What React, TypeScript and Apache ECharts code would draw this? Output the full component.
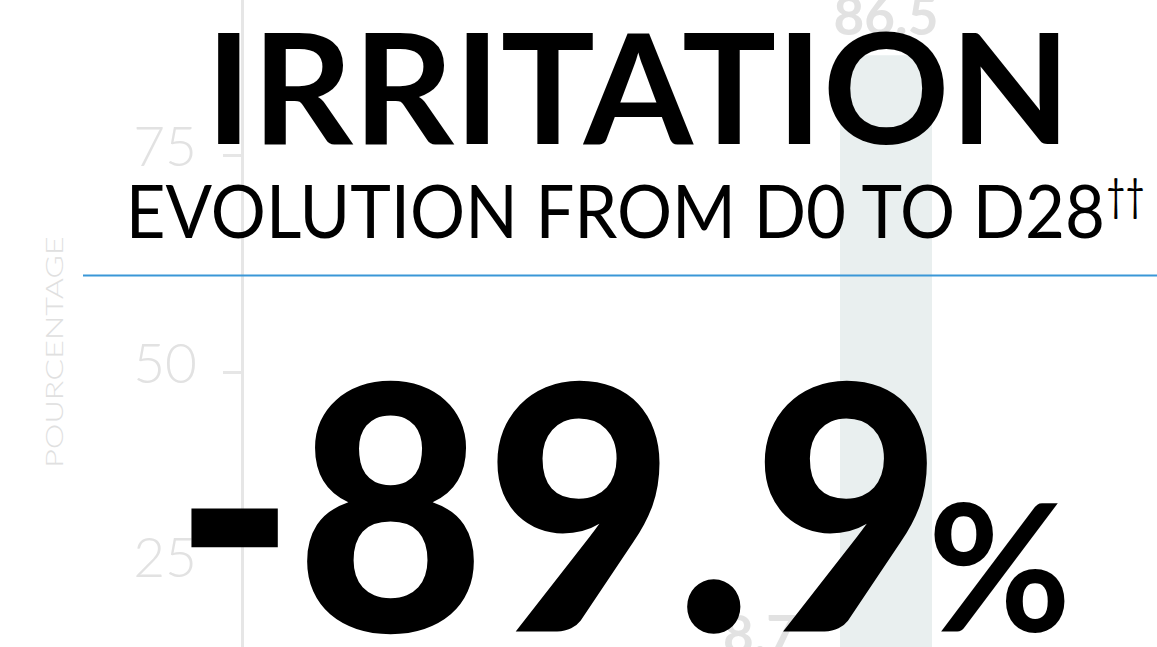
import React, { useEffect, useRef } from "react";
import * as echarts from "echarts";

// ---- data ----
const categories = ["D28", "D0"];
const values = [8.7, 86.5];
const yMin = 0;
const yMax = 100;
const yInterval = 25;
const visibleTicks = [0, 50, 75, 100];
const titleText = "IRRITATION";
const subtitleText = "EVOLUTION FROM D0 TO D28";
const subtitleMark = "††";
const headlineValue = "-89.9";
const headlineUnit = "%";
const yAxisName = "POURCENTAGE";

const FONT = "Lato";
const SVG_MIDDLE_SHIFT = 0.068;

type Box = { x: number; y: number; w: number; h: number };

function fitText(text: string, weight: number, box: Box) {
  const c = document.createElement("canvas");
  const ctx = c.getContext("2d")!;
  ctx.font = `${weight} 100px ${FONT}`;
  ctx.textBaseline = "middle";
  const m = ctx.measureText(text);
  const inkH = m.actualBoundingBoxAscent + m.actualBoundingBoxDescent;
  const fs = (100 * box.h) / inkH;
  const k = fs / 100;
  const inkW = (m.actualBoundingBoxLeft + m.actualBoundingBoxRight) * k;
  const sx = box.w / inkW;
  return {
    x: box.x + m.actualBoundingBoxLeft * k * sx,
    y: box.y + m.actualBoundingBoxAscent * k - SVG_MIDDLE_SHIFT * fs,
    fontSize: fs,
    scaleX: sx,
  };
}

function textEl(text: string, weight: number, box: Box, fill: string) {
  const f = fitText(text, weight, box);
  return {
    type: "text",
    x: f.x,
    y: f.y,
    scaleX: f.scaleX,
    z: 10,
    style: {
      text,
      fontFamily: FONT,
      fontSize: f.fontSize,
      fontWeight: weight,
      fill,
      textAlign: "left",
      textVerticalAlign: "middle",
      align: "left",
      verticalAlign: "middle",
    },
  };
}

export default function App() {
  const ref = useRef<HTMLDivElement>(null);
  useEffect(() => {
    if (!ref.current) return;
    const chart = echarts.init(ref.current, undefined, { renderer: "svg" });

    const labelBase = {
      fontFamily: FONT,
      fontWeight: 300,
      fontSize: 55,
      color: "#e2e2e2",
    };

    const option: any = {
      animation: false,
      backgroundColor: "#ffffff",
      grid: {
        left: 697,
        right: 208,
        top: -62,
        bottom: -159,
        containLabel: false,
        outerBoundsMode: "none",
      },
      xAxis: {
        type: "category",
        data: categories,
        axisLine: { show: false },
        axisTick: { show: false },
        axisLabel: { show: false },
      },
      yAxis: {
        type: "value",
        min: yMin,
        max: yMax,
        interval: yInterval,
        position: "left",
        offset: 455,
        axisLine: { show: true, lineStyle: { color: "#e6e6e6", width: 3 } },
        axisTick: {
          show: true,
          length: 19,
          customValues: visibleTicks,
          lineStyle: { color: "#e6e6e6", width: 3 },
        },
        splitLine: { show: false },
        axisLabel: {
          margin: 45,
          ...labelBase,
          formatter: (v: number) => (v === 25 ? `{lift|${v}}` : `{base|${v}}`),
          rich: {
            base: { ...labelBase, padding: [0, 0, 20, 0] },
            lift: { ...labelBase, padding: [0, 0, 66, 0] },
          },
        },
      },
      series: [
        {
          type: "bar",
          barWidth: 92,
          itemStyle: { color: "#e9efef" },
          label: {
            show: true,
            position: "top",
            distance: 14,
            fontFamily: FONT,
            fontWeight: 700,
            fontSize: 53,
            color: "#e2e2e2",
          },
          data: values.map((v, i) =>
            i === 0 ? { value: v, label: { distance: 70 } } : { value: v }
          ),
        },
      ],
      graphic: {
        elements: [
          {
            type: "line",
            z: 10,
            shape: { x1: 83, y1: 275.5, x2: 1157, y2: 275.5 },
            style: { stroke: "#3a97d7", lineWidth: 2 },
          },
          (() => {
            const f = fitText(yAxisName, 400, { x: 0, y: 0, w: 230, h: 18 });
            return {
              type: "text",
              x: 54,
              y: 352,
              rotation: Math.PI / 2,
              scaleX: f.scaleX,
              z: 10,
              style: {
                text: yAxisName,
                fontFamily: FONT,
                fontSize: f.fontSize,
                fontWeight: 300,
                fill: "#e0e0e0",
                textAlign: "center",
                textVerticalAlign: "middle",
                align: "center",
                verticalAlign: "middle",
              },
            };
          })(),
          textEl(titleText, 700, { x: 218, y: 32, w: 840, h: 114 }, "#000000"),
          textEl(subtitleText, 400, { x: 132, y: 184, w: 972, h: 55 }, "#000000"),
          textEl(subtitleMark, 400, { x: 1108, y: 178, w: 35, h: 42 }, "#000000"),
          textEl(headlineValue, 900, { x: 190, y: 383, w: 739, h: 253 }, "#000000"),
          textEl(headlineUnit, 700, { x: 933, y: 502, w: 133, h: 131 }, "#000000"),
        ],
      },
    };
    chart.setOption(option);
    return () => chart.dispose();
  }, []);

  return (
    <div
      ref={ref}
      style={{ position: "absolute", left: 0, top: 0, width: 1157, height: 647 }}
    />
  );
}
